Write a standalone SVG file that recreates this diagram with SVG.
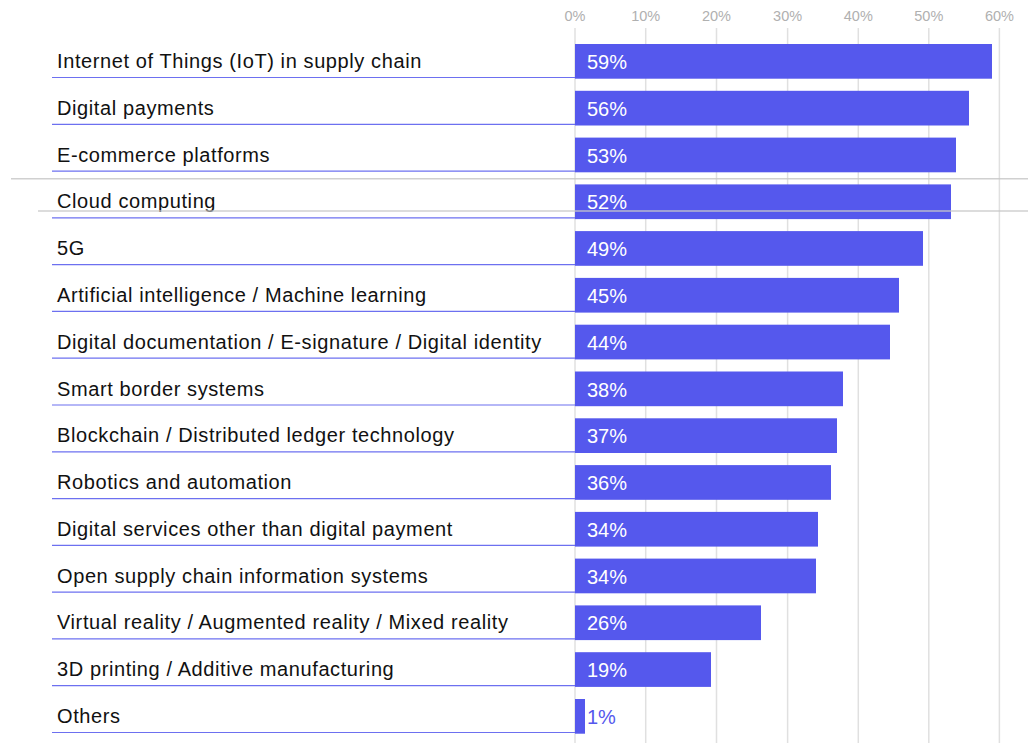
<svg xmlns="http://www.w3.org/2000/svg" width="1028" height="743" viewBox="0 0 1028 743">
<style>
.ax{font-family:"Liberation Sans",Arial,sans-serif;font-size:14.5px;fill:#b0b0b0;text-anchor:middle}
.grid{stroke:#e0e0e0;stroke-width:1.5}
.bar{fill:#5558ED}
.ul{stroke:#6d70f0;stroke-width:1.2}
.lbl{font-family:"Liberation Sans",Arial,sans-serif;font-size:20px;letter-spacing:0.6px;fill:#111}
.val{font-family:"Liberation Sans",Arial,sans-serif;font-size:20px;fill:#fff}
.valo{font-family:"Liberation Sans",Arial,sans-serif;font-size:20px;fill:#5558ED}
.hl{stroke:#c8c8c8;stroke-width:1.5;opacity:0.85}
</style>
<rect width="1028" height="743" fill="#fff"/>
<g id="axis">
<line class="grid" x1="575" y1="28" x2="575" y2="743"/>
<line class="grid" x1="645.7" y1="28" x2="645.7" y2="743"/>
<line class="grid" x1="716.5" y1="28" x2="716.5" y2="743"/>
<line class="grid" x1="787.6" y1="28" x2="787.6" y2="743"/>
<line class="grid" x1="858.3" y1="28" x2="858.3" y2="743"/>
<line class="grid" x1="928.8" y1="28" x2="928.8" y2="743"/>
<line class="grid" x1="999.4" y1="28" x2="999.4" y2="743"/>
<text class="ax" x="575" y="21">0%</text>
<text class="ax" x="645.7" y="21">10%</text>
<text class="ax" x="716.5" y="21">20%</text>
<text class="ax" x="787.6" y="21">30%</text>
<text class="ax" x="858.3" y="21">40%</text>
<text class="ax" x="928.8" y="21">50%</text>
<text class="ax" x="999.4" y="21">60%</text>
</g>
<g id="row1"><line class="ul" x1="52" y1="77.5" x2="575" y2="77.5"/><rect class="bar" x="575" y="44" width="417" height="34.7"/><text class="lbl" x="57" y="68">Internet of Things (IoT) in supply chain</text><text class="val" x="587" y="69">59%</text></g>
<g id="row2"><line class="ul" x1="52" y1="124.3" x2="575" y2="124.3"/><rect class="bar" x="575" y="90.8" width="394" height="34.7"/><text class="lbl" x="57" y="114.8">Digital payments</text><text class="val" x="587" y="115.8">56%</text></g>
<g id="row3"><line class="ul" x1="52" y1="171.1" x2="575" y2="171.1"/><rect class="bar" x="575" y="137.6" width="381" height="34.7"/><text class="lbl" x="57" y="161.6">E-commerce platforms</text><text class="val" x="587" y="162.6">53%</text></g>
<g id="row4"><line class="ul" x1="52" y1="217.9" x2="575" y2="217.9"/><rect class="bar" x="575" y="184.4" width="376" height="34.7"/><text class="lbl" x="57" y="208.4">Cloud computing</text><text class="val" x="587" y="209.4">52%</text></g>
<g id="row5"><line class="ul" x1="52" y1="264.6" x2="575" y2="264.6"/><rect class="bar" x="575" y="231.1" width="348" height="34.7"/><text class="lbl" x="57" y="255.1">5G</text><text class="val" x="587" y="256.1">49%</text></g>
<g id="row6"><line class="ul" x1="52" y1="311.4" x2="575" y2="311.4"/><rect class="bar" x="575" y="277.9" width="324" height="34.7"/><text class="lbl" x="57" y="301.9">Artificial intelligence / Machine learning</text><text class="val" x="587" y="302.9">45%</text></g>
<g id="row7"><line class="ul" x1="52" y1="358.2" x2="575" y2="358.2"/><rect class="bar" x="575" y="324.7" width="315" height="34.7"/><text class="lbl" x="57" y="348.7">Digital documentation / E-signature / Digital identity</text><text class="val" x="587" y="349.7">44%</text></g>
<g id="row8"><line class="ul" x1="52" y1="405" x2="575" y2="405"/><rect class="bar" x="575" y="371.5" width="268" height="34.7"/><text class="lbl" x="57" y="395.5">Smart border systems</text><text class="val" x="587" y="396.5">38%</text></g>
<g id="row9"><line class="ul" x1="52" y1="451.8" x2="575" y2="451.8"/><rect class="bar" x="575" y="418.3" width="262" height="34.7"/><text class="lbl" x="57" y="442.3">Blockchain / Distributed ledger technology</text><text class="val" x="587" y="443.3">37%</text></g>
<g id="row10"><line class="ul" x1="52" y1="498.6" x2="575" y2="498.6"/><rect class="bar" x="575" y="465.1" width="256" height="34.7"/><text class="lbl" x="57" y="489.1">Robotics and automation</text><text class="val" x="587" y="490.1">36%</text></g>
<g id="row11"><line class="ul" x1="52" y1="545.4" x2="575" y2="545.4"/><rect class="bar" x="575" y="511.9" width="243" height="34.7"/><text class="lbl" x="57" y="535.9">Digital services other than digital payment</text><text class="val" x="587" y="536.9">34%</text></g>
<g id="row12"><line class="ul" x1="52" y1="592.1" x2="575" y2="592.1"/><rect class="bar" x="575" y="558.6" width="241" height="34.7"/><text class="lbl" x="57" y="582.6">Open supply chain information systems</text><text class="val" x="587" y="583.6">34%</text></g>
<g id="row13"><line class="ul" x1="52" y1="638.9" x2="575" y2="638.9"/><rect class="bar" x="575" y="605.4" width="186" height="34.7"/><text class="lbl" x="57" y="629.4">Virtual reality / Augmented reality / Mixed reality</text><text class="val" x="587" y="630.4">26%</text></g>
<g id="row14"><line class="ul" x1="52" y1="685.7" x2="575" y2="685.7"/><rect class="bar" x="575" y="652.2" width="136" height="34.7"/><text class="lbl" x="57" y="676.2">3D printing / Additive manufacturing</text><text class="val" x="587" y="677.2">19%</text></g>
<g id="row15"><line class="ul" x1="52" y1="732.5" x2="575" y2="732.5"/><rect class="bar" x="575" y="699" width="10" height="34.7"/><text class="lbl" x="57" y="723">Others</text><text class="valo" x="587" y="724">1%</text></g>
<g id="connectors">
<line class="hl" x1="11" y1="178.8" x2="1028" y2="178.8"/>
<line class="hl" x1="38" y1="211" x2="1028" y2="211"/>
</g>
</svg>
